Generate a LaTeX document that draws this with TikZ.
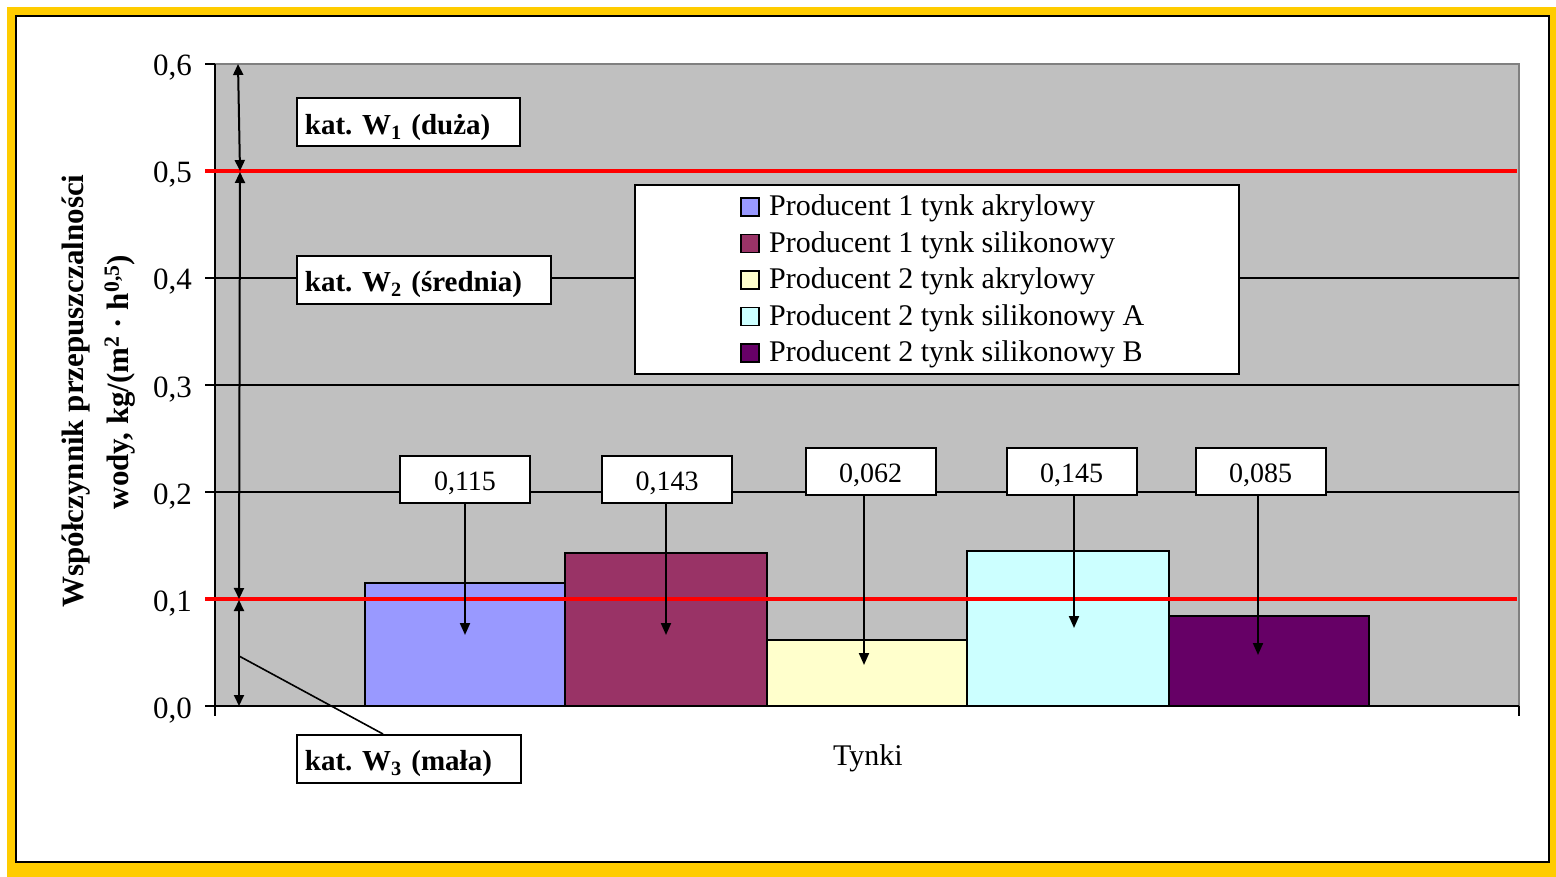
\documentclass[tikz,border=0pt]{standalone}
\usepackage{fontspec}
\setmainfont{Liberation Serif}
\usetikzlibrary{arrows.meta}
\definecolor{frameyellow}{HTML}{FFCC00}
\definecolor{plotgray}{HTML}{C0C0C0}
\definecolor{bordergray}{HTML}{808080}
\definecolor{barA}{HTML}{9999FF}
\definecolor{barB}{HTML}{993366}
\definecolor{barC}{HTML}{FFFFCC}
\definecolor{barD}{HTML}{CCFFFF}
\definecolor{barE}{HTML}{660066}
\definecolor{refred}{HTML}{FF0000}
\frenchspacing
\begin{document}
\begin{tikzpicture}[x=1pt,y=-1pt,
  ticklabel/.style={anchor=base east,inner sep=0pt,font=\fontsize{31}{36}\selectfont},
  valbox/.style={draw=black,line width=2pt,fill=white,minimum width=130pt,minimum height=47pt,inner sep=0pt,text height=22pt,text depth=0pt,font=\fontsize{28}{32}\selectfont},
  katbox/.style={draw=black,line width=1.8pt,fill=white,anchor=north west,inner xsep=8pt,inner ysep=0pt,minimum height=48pt,align=left,text height=24pt,text depth=0pt,font=\bfseries\fontsize{29}{34}\selectfont\frenchspacing},
  barbox/.style={draw=black,line width=1.6pt},
  gridl/.style={black,line width=1.2pt},
  axisl/.style={black,line width=1.5pt},
  refline/.style={refred,line width=4pt},
  ptr/.style={line width=2pt,-{Triangle[width=10pt,length=12pt]}},
  dbl/.style={line width=2pt,{Triangle[width=10pt,length=11pt]}-{Triangle[width=10pt,length=11pt]}},
  leader/.style={black,line width=1.6pt},
  legsq/.style={draw=black,line width=1.5pt,minimum size=18pt,inner sep=0pt},
  legtxt/.style={anchor=base west,inner sep=0pt,font=\fontsize{30}{36}\selectfont},
  ylab/.style={anchor=base,rotate=90,inner sep=0pt,font=\bfseries\fontsize{31}{36}\selectfont}
]
\useasboundingbox (0,0) rectangle (1556,877);
% frame
\fill[frameyellow] (7,7) rectangle (1556,877);
\draw[fill=white,line width=1.5pt] (16,16) rectangle (1549,862);
% plot area
\fill[plotgray] (215,64) rectangle (1519,706);
\draw[bordergray,line width=2pt] (215,64) -- (1519,64) -- (1519,706);
% gridlines and ticks
\foreach \yy in {278,385,492} \draw[gridl] (205,\yy) -- (1519,\yy);
\foreach \yy in {64,171,599} \draw[gridl] (205,\yy) -- (215,\yy);
\draw[axisl] (215,64) -- (215,716);
\draw[axisl] (205,706) -- (1519,706);
\draw[axisl] (1519,706) -- (1519,716);
% tick labels
\node[ticklabel] (t6) at (192,76) {0,6};
\node[ticklabel] (t5) at (192,183) {0,5};
\node[ticklabel] (t4) at (192,290) {0,4};
\node[ticklabel] (t3) at (192,397) {0,3};
\node[ticklabel] (t2) at (192,504) {0,2};
\node[ticklabel] (t1) at (192,611) {0,1};
\node[ticklabel] (t0) at (192,718) {0,0};
% bars
\draw[barbox,fill=barA] (365,583) rectangle (565,706);
\draw[barbox,fill=barB] (565,553) rectangle (767,706);
\draw[barbox,fill=barC] (767,640) rectangle (967,706);
\draw[barbox,fill=barD] (967,551) rectangle (1169,706);
\draw[barbox,fill=barE] (1169,616) rectangle (1369,706);
% reference lines
\draw[refline] (205,171) -- (1517,171);
\draw[refline] (205,599) -- (1517,599);
% legend
\node[draw=black,line width=1.5pt,fill=white,minimum width=604pt,minimum height=189pt,inner sep=0pt] (legend) at (937,279.5) {};
\node[legsq,fill=barA] (s1) at (750,207) {};
\node[legsq,fill=barB] (s2) at (750,243.5) {};
\node[legsq,fill=barC] (s3) at (750,280) {};
\node[legsq,fill=barD] (s4) at (750,316.5) {};
\node[legsq,fill=barE] (s5) at (750,353) {};
\node[legtxt] (l1) at (769,216) {Producent 1 tynk akrylowy};
\node[legtxt] (l2) at (769,252.5) {Producent 1 tynk silikonowy};
\node[legtxt] (l3) at (769,289) {Producent 2 tynk akrylowy};
\node[legtxt] (l4) at (769,325.5) {Producent 2 tynk silikonowy A};
\node[legtxt] (l5) at (769,362) {Producent 2 tynk silikonowy B};
% value labels
\node[valbox] (v1) at (465,479.5) {0,115};
\node[valbox] (v2) at (667,479) {0,143};
\node[valbox] (v3) at (870.5,471.5) {0,062};
\node[valbox] (v4) at (1071.5,471.5) {0,145};
\node[valbox] (v5) at (1260.5,471.5) {0,085};
\coordinate (a1) at (465,635);
\coordinate (a2) at (666,635);
\coordinate (a3) at (864,665);
\coordinate (a4) at (1074,628);
\coordinate (a5) at (1258,655);
\draw[ptr] (v1.south -| a1) -- (a1);
\draw[ptr] (v2.south -| a2) -- (a2);
\draw[ptr] (v3.south -| a3) -- (a3);
\draw[ptr] (v4.south -| a4) -- (a4);
\draw[ptr] (v5.south -| a5) -- (a5);
% category arrows
\coordinate (c6) at (238,64);
\coordinate (c5a) at (240,171);
\coordinate (c5b) at (240,172);
\coordinate (c1a) at (239,599);
\coordinate (c1b) at (239,600);
\coordinate (c0) at (239,706);
\draw[dbl] (c6) -- (c5a);
\draw[dbl] (c5b) -- (c1a);
\draw[dbl] (c1b) -- (c0);
% category boxes
\node[katbox,text width=207pt] (w1) at (296,97.5) {kat. W\textsubscript{1} (duża)};
\node[katbox,text width=238pt] (w2) at (296,255) {kat. W\textsubscript{2} (średnia)};
\node[katbox,text width=208pt] (w3) at (296,734) {kat. W\textsubscript{3} (mała)};
\coordinate (w3src) at (239,656);
\coordinate (w3dst) at (383,734);
\draw[leader] (w3src) -- (w3.north -| w3dst);
% axis titles
\node[ylab] (ylab1) at (83,391) {Współczynnik przepuszczalności};
\node[ylab] (ylab2) at (128,382) {wody, kg/(m\textsuperscript{2} · h\textsuperscript{0,5})};
\node[anchor=base,inner sep=0pt,font=\fontsize{30}{36}\selectfont] (xlab) at (868,765) {Tynki};
\end{tikzpicture}
\end{document}
